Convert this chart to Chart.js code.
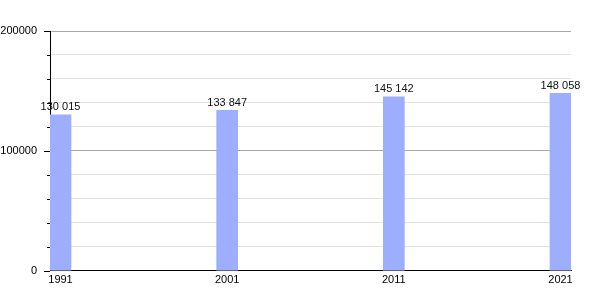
<!DOCTYPE html>
<html>
<head>
<meta charset="utf-8">
<script src="https://cdn.jsdelivr.net/npm/chart.js@4"></script>
<style>
  html, body { margin: 0; padding: 0; background: #fff; }
  #wrap { width: 600px; height: 300px; }
</style>
</head>
<body>
<div id="wrap"><canvas id="chart"></canvas></div>
<script>
const years = [1991, 2001, 2011, 2021];
const population = [130015, 133847, 145142, 148058];
const yTicks = [0, 100000, 200000];

const fmt = (v) => String(v).replace(/\B(?=(\d{3})+(?!\d))/g, ' ');

// tick marks on the y axis: long for labelled, short for minor
const yTickMarks = {
  id: 'yTickMarks',
  afterDraw: function (chart) {
    const ctx = chart.ctx;
    const y = chart.scales.y;
    const left = chart.chartArea.left;
    ctx.save();
    ctx.strokeStyle = '#000';
    ctx.lineWidth = 1;
    for (let v = 0; v <= 200000; v += 20000) {
      const py = Math.round(y.getPixelForValue(v)) + 0.5;
      const len = yTicks.includes(v) ? 6 : 3;
      ctx.beginPath();
      ctx.moveTo(left - len, py);
      ctx.lineTo(left, py);
      ctx.stroke();
    }
    ctx.restore();
  }
};

const barLabels = {
  id: 'barLabels',
  afterDatasetsDraw: function (chart) {
    const ctx = chart.ctx;
    const meta = chart.getDatasetMeta(0);
    ctx.save();
    ctx.font = '11px "Liberation Sans", Arial, sans-serif';
    ctx.fillStyle = '#111';
    ctx.textAlign = 'center';
    ctx.textBaseline = 'bottom';
    meta.data.forEach((bar, i) => {
      ctx.fillText(fmt(population[i]), bar.x, bar.y - 2);
    });
    ctx.restore();
  }
};

new Chart(document.getElementById('chart'), {
  type: 'bar',
  data: {
    datasets: [{
      data: years.map((yr, i) => ({ x: yr, y: population[i] })),
      backgroundColor: '#9daeff',
      borderWidth: 0,
      barThickness: 21,
    }]
  },
  options: {
    responsive: true,
    maintainAspectRatio: false,
    animation: false,
    layout: { padding: { top: 31, right: 29, bottom: 10, left: 0 } },
    plugins: {
      legend: { display: false },
      tooltip: { enabled: false },
    },
    scales: {
      x: {
        type: 'linear',
        offset: false,
        min: 1990.37,
        max: 2021.63,
        afterBuildTicks: (axis) => { axis.ticks = years.map(v => ({ value: v })); },
        grid: { display: false, drawTicks: false },
        border: { color: '#000', width: 1 },
        ticks: {
          color: '#000',
          padding: 3,
          maxRotation: 0,
          autoSkip: false,
          font: { family: '"Liberation Sans", Arial, sans-serif', size: 11 },
          callback: (v) => String(v),
        },
      },
      y: {
        min: 0,
        max: 200000,
        afterFit: (axis) => { axis.width = 50; },
        grid: {
          drawTicks: false,
          color: (c) => (c.tick && c.tick.value % 100000 === 0) ? '#a8a8a8' : '#e2e2e2',
        },
        border: { color: '#000', width: 1 },
        ticks: {
          stepSize: 20000,
          color: '#000',
          padding: 13,
          font: { family: '"Liberation Sans", Arial, sans-serif', size: 11 },
          callback: (v) => yTicks.includes(v) ? String(v) : '',
        },
      },
    },
  },
  plugins: [yTickMarks, barLabels],
});
</script>
</body>
</html>
